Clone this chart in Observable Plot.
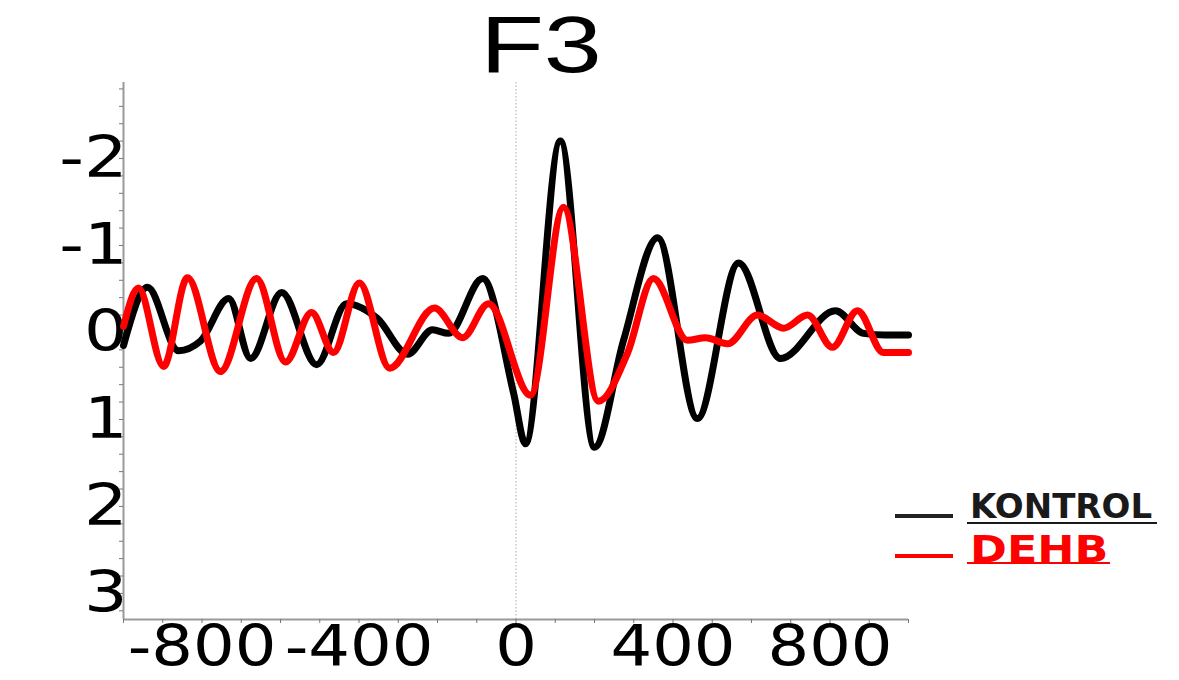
<!DOCTYPE html>
<html>
<head>
<meta charset="utf-8">
<script src="https://cdn.jsdelivr.net/npm/d3@7"></script>
<script src="https://cdn.jsdelivr.net/npm/@observablehq/plot@0.6"></script>
<style>
  body { margin: 0; background: #fff; }
  #wrap { position: relative; width: 1179px; height: 680px; background: #fff; }
  #chart { position: absolute; left: 0; top: 0; }
  #title { position: absolute; left: 441px; top: 0px; width: 200px; text-align: center;
           font-family: "Liberation Sans", Arial, sans-serif; font-size: 79px; line-height: 90px;
           color: #000; transform: scaleX(1.32); transform-origin: center; }
  .legline { position: absolute; left: 895px; width: 58px; height: 4px; }
  .legtext { position: absolute; left: 970px; font-family: "DejaVu Sans", sans-serif; font-weight: bold;
             white-space: nowrap; transform-origin: left center; }
  .under { position: absolute; height: 2px; }
</style>
</head>
<body>
<div id="wrap">
  <div id="chart"></div>
  <div id="title">F3</div>
  <div id="legend"></div>
</div>
<script>
// ---- data ----
const titleText = "F3";
const seriesNames = ["KONTROL", "DEHB"];
const seriesColors = ["#000000", "#ff0000"];

// KONTROL (black) : time (ms) and amplitude (µV, negative up)
const kontrolTime = [-1000, -939, -860, -804, -732, -676, -597, -508, -432, -353, -276, -213, -172, -85, -6, 24, 113, 200, 274, 361, 462, 567, 674, 814, 885, 940, 1000];
const kontrolAmp  = [0.15, -0.52, 0.21, 0.10, -0.39, 0.30, -0.46, 0.37, -0.33, -0.16, 0.25, -0.03, 0.01, -0.62, 0.70, 1.28, -2.20, 1.32, 0.09, -1.09, 0.99, -0.80, 0.30, -0.25, 0.01, 0.03, 0.03];

// DEHB (red)
const dehbTime = [-1000, -962, -898, -837, -753, -661, -587, -521, -465, -399, -322, -208, -136, -70, 37, 121, 210, 284, 350, 437, 483, 539, 615, 682, 743, 806, 870, 936, 1000];
const dehbAmp  = [-0.07, -0.51, 0.39, -0.63, 0.45, -0.62, 0.34, -0.23, 0.23, -0.57, 0.41, -0.28, 0.06, -0.33, 0.72, -1.44, 0.79, 0.24, -0.62, 0.09, 0.06, 0.13, -0.20, -0.05, -0.20, 0.17, -0.25, 0.23, 0.23];

const xTickLabels = [-800, -400, 0, 400, 800];
const yTickLabels = [-2, -1, 0, 1, 2, 3];
const xDomain = [-1000, 1000];
const yDomain = [3.3, -2.874];   // reversed: negative up
const xMinorTicks = d3.range(-1000, 1001, 100);
const yMinorTicks = d3.range(-2.8, 3.3, 0.2).map(v => +v.toFixed(1));

// ---- build tables ----
const kontrol = kontrolTime.map((t, i) => ({t, v: kontrolAmp[i]}));
const dehb = dehbTime.map((t, i) => ({t, v: dehbAmp[i]}));

const fmt = d => d < 0 ? "-" + Math.abs(d) : String(d);

const plot = Plot.plot({
  width: 1179,
  height: 680,
  marginLeft: 123,
  marginRight: 271,
  marginTop: 82,
  marginBottom: 61,
  style: { fontFamily: "'DejaVu Sans', sans-serif", background: "transparent" },
  x: { domain: xDomain },
  y: { domain: yDomain },
  marks: [
    Plot.ruleX([0], { stroke: "#b8b8b8", strokeWidth: 1.2, strokeDasharray: "1.5,2" }),
    Plot.ruleX([xDomain[0]], { stroke: "#9a9a9a", strokeWidth: 2 }),
    Plot.ruleY([yDomain[0]], { stroke: "#9a9a9a", strokeWidth: 2 }),
    Plot.axisY({ ticks: yMinorTicks, tickSize: 4, tickFormat: () => "", stroke: "#777", label: null }),
    Plot.axisX({ ticks: xMinorTicks, tickSize: 4, tickFormat: () => "", stroke: "#777", label: null }),
    Plot.axisY({ ticks: yTickLabels, tickSize: 0, tickPadding: 0, dx: 4, fontSize: 57, fill: "#000", label: null,
                 tickFormat: fmt }),
    Plot.axisX({ ticks: xTickLabels, tickSize: 0, tickPadding: 6, fontSize: 57, fill: "#000", label: null,
                 tickFormat: fmt }),
    Plot.line(kontrol, { x: "t", y: "v", stroke: seriesColors[0], strokeWidth: 7, curve: "monotone-x" }),
    Plot.line(dehb, { x: "t", y: "v", stroke: seriesColors[1], strokeWidth: 7, curve: "monotone-x" })
  ]
});
document.getElementById("chart").appendChild(plot);
document.getElementById("title").textContent = titleText;

// widen tick-label glyphs horizontally (the reference font is stretched)
function widen(axisPrefix, s, anchor) {
  plot.querySelectorAll("text").forEach(t => {
    const g = t.closest("g[aria-label]");
    const lab = g ? g.getAttribute("aria-label") : "";
    if (!lab.startsWith(axisPrefix) || !t.textContent.trim()) return;
    const b = t.getBBox();
    const ax = anchor === "end" ? b.x + b.width : b.x + b.width / 2;
    const tr = t.getAttribute("transform") || "";
    t.setAttribute("transform", `${tr} translate(${ax},0) scale(${s},1) translate(${-ax},0)`);
  });
}
widen("y-axis", 1.2, "end");
widen("x-axis", 1.15, "middle");

// ---- legend (HTML overlay at right) ----
const legend = document.getElementById("legend");
const legSpec = [
  { lineTop: 514, textTop: 489, size: 34, sx: 1.0,  color: "#1a1a1a", underTop: 522, underW: 190 },
  { lineTop: 554, textTop: 530, size: 38, sx: 1.17, color: "#ff0000", underTop: 562, underW: 143 }
];
seriesNames.forEach((name, i) => {
  const s = legSpec[i];
  const ln = document.createElement("div");
  ln.className = "legline";
  ln.style.top = s.lineTop + "px";
  ln.style.background = i === 0 ? "#222" : seriesColors[i];
  legend.appendChild(ln);
  const tx = document.createElement("div");
  tx.className = "legtext";
  tx.textContent = name;
  tx.style.top = s.textTop + "px";
  tx.style.fontSize = s.size + "px";
  tx.style.lineHeight = s.size + "px";
  tx.style.color = s.color;
  tx.style.transform = `scaleX(${s.sx})`;
  legend.appendChild(tx);
  const un = document.createElement("div");
  un.className = "under";
  un.style.left = "967px";
  un.style.top = s.underTop + "px";
  un.style.width = s.underW + "px";
  un.style.background = s.color;
  legend.appendChild(un);
});
</script>
</body>
</html>
